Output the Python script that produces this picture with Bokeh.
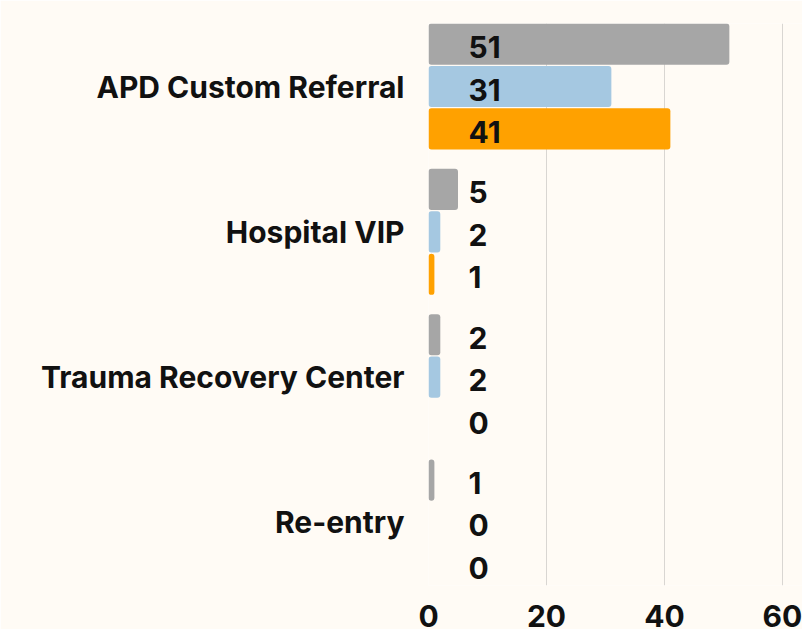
from bokeh.plotting import figure
from bokeh.models import Range1d, FixedTicker, ColumnDataSource
from bokeh.embed import file_html
from bokeh.resources import INLINE
from bokeh.core.properties import value

categories = ["APD Custom Referral", "Hospital VIP", "Trauma Recovery Center", "Re-entry"]
series_a = [51, 5, 2, 1]
series_b = [31, 2, 2, 0]
series_c = [41, 1, 0, 0]
x_ticks = [0, 20, 40, 60]

colors = ["#A6A6A6", "#A5C8E1", "#FFA100"]
offsets = [0.292, 0.0, -0.292]
bar_h = 0.283
bg = "#FFFBF5"
font = "Inter"
fsize = "30px"

n = len(categories)
ypos = [n - 1 - i for i in range(n)]

p = figure(frame_width=374, frame_height=562, output_backend="svg", toolbar_location=None,
           x_range=Range1d(0, 63.4), y_range=Range1d(-0.4335, n - 1 + 0.4335),
           min_border_left=428, min_border_right=0, min_border_top=23, min_border_bottom=0,
           background_fill_color=bg, border_fill_color=bg, outline_line_color=None)

for vals, col, off in zip([series_a, series_b, series_c], colors, offsets):
    src = ColumnDataSource(dict(y=[yy + off for yy in ypos], right=vals,
                                lab=[str(v) for v in vals]))
    p.hbar(y="y", left=0, right="right", height=bar_h, source=src, fill_color=col,
           line_color=None, border_radius=3)
    p.text(x=0, y="y", text="lab", source=src, x_offset=40, y_offset=3, text_align="left",
           text_baseline="middle", text_font=value(font), text_font_style="bold",
           text_font_size=fsize, text_color="#111111")

p.yaxis.ticker = FixedTicker(ticks=ypos)
p.yaxis.major_label_overrides = {yy: c for yy, c in zip(ypos, categories)}
p.yaxis.major_label_text_font = font
p.yaxis.major_label_text_font_style = "bold"
p.yaxis.major_label_text_font_size = fsize
p.yaxis.major_label_text_color = "#111111"
p.yaxis.major_label_standoff = 18
p.yaxis.axis_line_color = None
p.yaxis.major_tick_line_color = None
p.yaxis.minor_tick_line_color = None
p.ygrid.grid_line_color = None

p.xaxis.ticker = FixedTicker(ticks=x_ticks)
p.xaxis.major_label_text_font = font
p.xaxis.major_label_text_font_style = "bold"
p.xaxis.major_label_text_font_size = fsize
p.xaxis.major_label_text_color = "#111111"
p.xaxis.major_label_standoff = 13
p.xaxis.axis_line_color = None
p.xaxis.major_tick_line_color = None
p.xaxis.minor_tick_line_color = None
p.xgrid.grid_line_color = "#D9D6D2"
p.xgrid.grid_line_width = 1

open("out.html", "w").write(file_html(p, INLINE))
